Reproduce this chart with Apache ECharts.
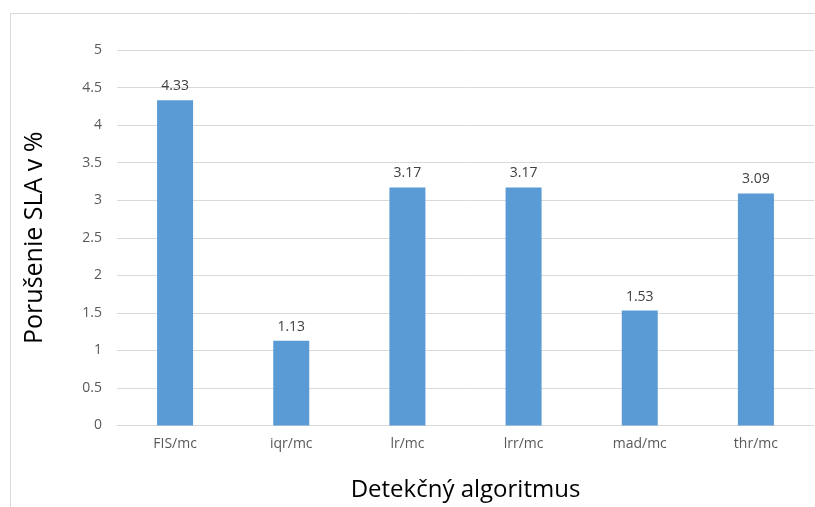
<!DOCTYPE html>
<html>
<head>
<meta charset="utf-8">
<script src="https://cdn.jsdelivr.net/npm/echarts@6/dist/echarts.min.js"></script>
<style>
html,body{margin:0;padding:0;background:#fff;}
#chart{width:815px;height:507px;}
</style>
</head>
<body>
<div id="chart"></div>
<script>
const categories = ["FIS/mc", "iqr/mc", "lr/mc", "lrr/mc", "mad/mc", "thr/mc"];
const values = [4.33, 1.13, 3.17, 3.17, 1.53, 3.09];
const yTicks = [0, 0.5, 1, 1.5, 2, 2.5, 3, 3.5, 4, 4.5, 5];
const xTitle = "Detekčný algoritmus";
const yTitle = "Porušenie SLA v %";

const chart = echarts.init(document.getElementById('chart'), null, {renderer: 'canvas'});
const font = "'Open Sans', 'Liberation Sans', sans-serif";
chart.setOption({
  animation: false,
  backgroundColor: '#ffffff',
  graphic: [{
    type: 'rect',
    shape: {x: 10.5, y: 13.5, width: 900, height: 600},
    style: {fill: 'none', stroke: '#d9d9d9', lineWidth: 1},
    silent: true
  }],
  grid: {left: 117, right: 1, top: 50, bottom: 81.5, containLabel: false, outerBoundsMode: 'none'},
  xAxis: {
    type: 'category',
    data: categories,
    name: xTitle,
    nameLocation: 'middle',
    nameGap: 53,
    nameTextStyle: {fontSize: 24, color: '#000000', fontFamily: font},
    axisLine: {show: true, lineStyle: {color: '#d9d9d9', width: 1}},
    axisTick: {show: false},
    axisLabel: {fontSize: 14, color: '#595959', fontFamily: font, margin: 12}
  },
  yAxis: {
    type: 'value',
    min: yTicks[0],
    max: yTicks[yTicks.length - 1],
    interval: 0.5,
    name: yTitle,
    nameLocation: 'middle',
    nameGap: 70,
    nameTextStyle: {fontSize: 25, color: '#000000', fontFamily: font},
    axisLine: {show: false},
    axisTick: {show: false},
    splitLine: {lineStyle: {color: '#d9d9d9', width: 1}},
    axisLabel: {fontSize: 14, color: '#595959', fontFamily: font, margin: 15,
      formatter: v => String(v)}
  },
  series: [{
    type: 'bar',
    data: values,
    barWidth: '31%',
    itemStyle: {color: '#5b9bd5'},
    label: {show: true, position: 'top', distance: 7, fontSize: 14, color: '#404040', fontFamily: font,
      formatter: p => p.value.toFixed(2)}
  }]
});
</script>
</body>
</html>
